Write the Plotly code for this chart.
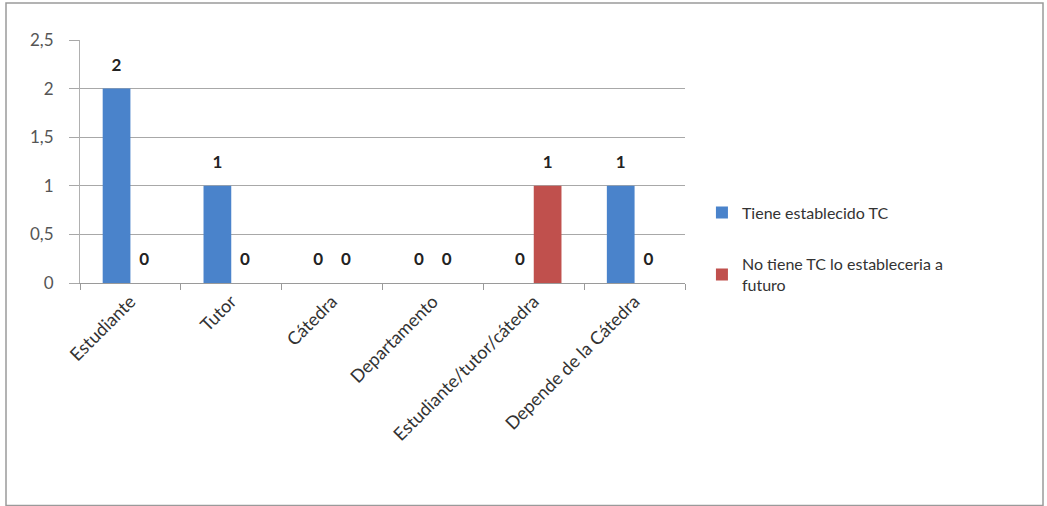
import plotly.graph_objects as go

categories = ["Estudiante", "Tutor", "Cátedra", "Departamento",
              "Estudiante/tutor/cátedra", "Depende de la Cátedra"]
tiene_tc = [2, 1, 0, 0, 0, 1]
no_tiene_tc = [0, 0, 0, 0, 1, 0]
series_names = ["Tiene establecido TC", "No tiene TC lo estableceria a<br>futuro"]
y_ticks = [0, 0.5, 1, 1.5, 2, 2.5]
y_tick_labels = ["0", "0,5", "1", "1,5", "2", "2,5"]

FONT = "Lato, Open Sans, sans-serif"
W, H = 1047, 506
L, R, T, B = 80, 362, 40, 223

fig = go.Figure()
for i, (vals, name, color) in enumerate([(tiene_tc, series_names[0], "#4A83CB"),
                                         (no_tiene_tc, series_names[1], "#C0504D")]):
    fig.add_trace(go.Bar(
        x=categories, y=vals, name=name, marker_color=color,
        marker_line_width=0, legendgroup=f"g{i}",
        text=vals,
        texttemplate="<span style='font-size:17px'>%{y}</span><br> ",
        textposition="outside",
        textfont=dict(family=FONT, size=10, color="#222222", weight="bold"),
        cliponaxis=False,
    ))

pw = W - L - R
ph = H - T - B
fig.add_shape(type="rect", xref="paper", yref="paper",
              x0=(6 - L) / pw, x1=(1043 - L) / pw,
              y0=-(H - T - 3 - ph) / ph - 0.01, y1=1 + (T - 3) / ph,
              line=dict(color="#9a9a9a", width=1.5), layer="below")

fig.update_layout(
    width=W, height=H,
    margin=dict(l=L, r=R, t=T, b=B, autoexpand=False),
    paper_bgcolor="white", plot_bgcolor="white",
    barmode="group", bargap=0.45, bargroupgap=0,
    font=dict(family=FONT, size=15, color="#333333"),
    showlegend=True,
    legend=dict(x=1.028, y=0.36, xanchor="left", yanchor="top",
                font=dict(family=FONT, size=16, color="#333333"),
                tracegroupgap=28, itemwidth=30, itemsizing="constant",
                bgcolor="rgba(0,0,0,0)"),
    xaxis=dict(showgrid=False, showline=True, linecolor="#9a9a9a",
               ticks="outside", tickson="boundaries", ticklen=6,
               tickcolor="#9a9a9a", tickangle=-45,
               tickfont=dict(family=FONT, size=18, color="#333333")),
    yaxis=dict(range=[0, 2.5], tickvals=y_ticks, ticktext=y_tick_labels,
               showgrid=True, gridcolor="#a8a8a8", gridwidth=1,
               showline=True, linecolor="#b0b0b0", ticks="outside",
               ticklen=10, tickcolor="#a8a8a8", zeroline=False,
               ticklabelstandoff=12,
               tickfont=dict(family=FONT, size=17, color="#555555")),
)

fig.write_html("out.html", config={"displayModeBar": False},
               post_script="document.body.style.margin='0';")
